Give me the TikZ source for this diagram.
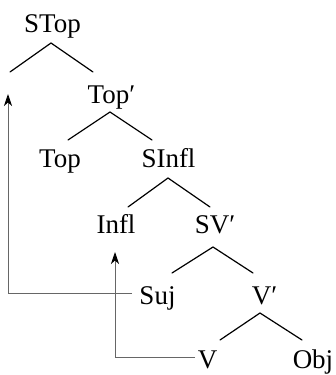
\documentclass[tikz,border=0pt]{standalone}
\usepackage{fontspec}
\setmainfont{Liberation Serif}
\usetikzlibrary{arrows.meta}
\begin{document}
\begin{tikzpicture}[x=1pt,y=-1pt,
  lbl/.style={anchor=base, inner sep=0pt, font=\fontsize{27}{30}\selectfont},
  branch/.style={line width=1.2pt, line cap=round},
  mv/.style={line width=0.8pt, draw=black!60, -{Stealth[length=12pt,width=8pt,inset=3.5pt,color=black]}}]
\useasboundingbox (0,0) rectangle (336,375);
% labels
\node[lbl] (stop)  at (52.5,32)  {STop};
\node[lbl] (topb)  at (111.5,103) {Top′};
\node[lbl] (top)   at (60,167)   {Top};
\node[lbl] (sinfl) at (168.5,167) {SInfl};
\node[lbl] (infl)  at (116,233)  {Infl};
\node[lbl] (svb)   at (215,233)  {SV′};
\node[lbl] (suj)   at (157.5,304) {Suj};
\node[lbl] (vb)    at (264.5,304) {V′};
\node[lbl] (v)     at (207.5,368) {V};
\node[lbl] (obj)   at (313,368)  {Obj};
% branch points
\coordinate (a1) at (51,43);  \coordinate (l1) at (10,72);  \coordinate (r1) at (93,72);
\coordinate (a2) at (110,112); \coordinate (l2) at (68,140); \coordinate (r2) at (152,140);
\coordinate (a3) at (168,178); \coordinate (l3) at (128,207); \coordinate (r3) at (210,207);
\coordinate (a4) at (213,247); \coordinate (l4) at (172,273); \coordinate (r4) at (253,273);
\coordinate (a5) at (260,313); \coordinate (l5) at (220,340); \coordinate (r5) at (302,340);
\draw[branch] (l1) -- (a1) -- (r1);
\draw[branch] (l2) -- (a2) -- (r2);
\draw[branch] (l3) -- (a3) -- (r3);
\draw[branch] (l4) -- (a4) -- (r4);
\draw[branch] (l5) -- (a5) -- (r5);
% movement arrows
\coordinate (t1tail) at (132,293); \coordinate (t1) at (8,94);
\coordinate (t2tail) at (195,357); \coordinate (t2) at (115,252);
\draw[mv] (t1tail) -| (t1);
\draw[mv] (t2tail) -| (t2);
\end{tikzpicture}
\end{document}
